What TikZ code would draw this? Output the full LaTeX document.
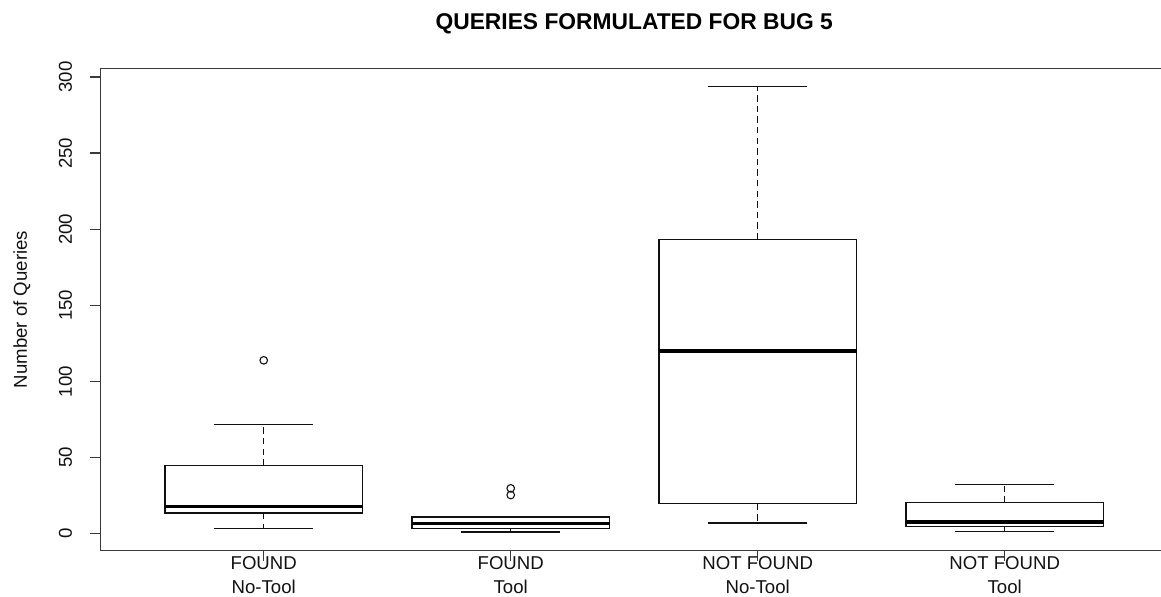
\documentclass[tikz,border=0pt]{standalone}
\usepackage{fontspec}
\setmainfont{Liberation Sans}
\definecolor{ink}{HTML}{111111}
\definecolor{axisgray}{HTML}{3A3A3A}

% one box: centre, lower whisker, q1, median, q3, upper whisker
\newcommand{\qbox}[6]{%
  \draw[whisker] (#1,#3) -- (#1,#2);
  \draw[whisker] (#1,#5) -- (#1,#6);
  \draw[capline] (#1-0.2,#2) -- (#1+0.2,#2);
  \draw[capline] (#1-0.2,#6) -- (#1+0.2,#6);
  \draw[boxline] (#1-0.4,#3) rectangle (#1+0.4,#5);
  \draw[median] (#1-0.4,#4) -- (#1+0.4,#4);
}

\begin{document}
\begin{tikzpicture}[line cap=butt,line join=miter]
  \tikzset{
    axisline/.style={axisgray,line width=0.7pt},
    boxline/.style={ink,line width=0.6pt,fill=white},
    whisker/.style={ink,line width=0.6pt,dash pattern=on 3.2pt off 2.1pt},
    capline/.style={ink,line width=0.6pt},
    median/.style={black,line width=1.7pt},
    outlier/.style={ink,line width=0.55pt},
    ticklabel/.style={ink,rotate=90,inner sep=0pt,font=\fontsize{9.3}{11}\selectfont},
    catlabel/.style={ink,anchor=base,inner sep=0pt,font=\fontsize{9.3}{11}\selectfont},
    titletext/.style={black,anchor=base,inner sep=0pt,font=\bfseries\fontsize{11.4}{13}\selectfont}
  }
  \useasboundingbox (0,0) rectangle (580.5pt,298.5pt);

  \begin{scope}[shift={(8.36pt,31.65pt)},x=123.5pt,y=0.761pt]
    % Frame (right edge falls off the page).
    \draw[axisline] (4.64,305.8) -- (0.34,305.8) -- (0.34,-11.2) -- (4.64,-11.2);

    % Y axis.
    \foreach \v in {0,50,...,300}{
      \draw[axisline] (0.34,\v) -- ++(-5.5pt,0);
      \path (0.34,\v) ++(-17.6pt,0) node[ticklabel] (y\v) {\v};
    }
    \node[catlabel,rotate=90] (ylab) at (0.0416,147.3) {Number of Queries};

    % X axis ticks.
    \foreach \k in {1,...,4}
      \draw[axisline] (\k,-11.2) -- ++(0,-5pt);

    % Boxes.
    \qbox{1}{3.3}{13.6}{17.7}{44.7}{71.9}
    \qbox{2}{1.1}{3.3}{6.8}{11}{11}
    \qbox{3}{7.0}{19.6}{120.1}{193.4}{293.9}
    \qbox{4}{1.4}{4.6}{7.7}{20.3}{32.5}

    % Outliers.
    \draw[outlier] (1,113.9) circle (1.9pt);
    \draw[outlier] (2,29.8) circle (1.9pt);
    \draw[outlier] (2,25.4) circle (1.9pt);

    % Labels.
    \node[catlabel] (c1a) at (1,-23.4) {FOUND};
    \node[catlabel] (c1b) at (1,-39.0) {No-Tool};
    \node[catlabel] (c2a) at (2,-23.4) {FOUND};
    \node[catlabel] (c2b) at (2,-39.0) {Tool};
    \node[catlabel] (c3a) at (3,-23.4) {NOT FOUND};
    \node[catlabel] (c3b) at (3,-39.0) {No-Tool};
    \node[catlabel] (c4a) at (4,-23.4) {NOT FOUND};
    \node[catlabel] (c4b) at (4,-39.0) {Tool};

    \node[titletext] (title) at (2.5,331) {QUERIES FORMULATED FOR BUG 5};
  \end{scope}
\end{tikzpicture}
\end{document}
